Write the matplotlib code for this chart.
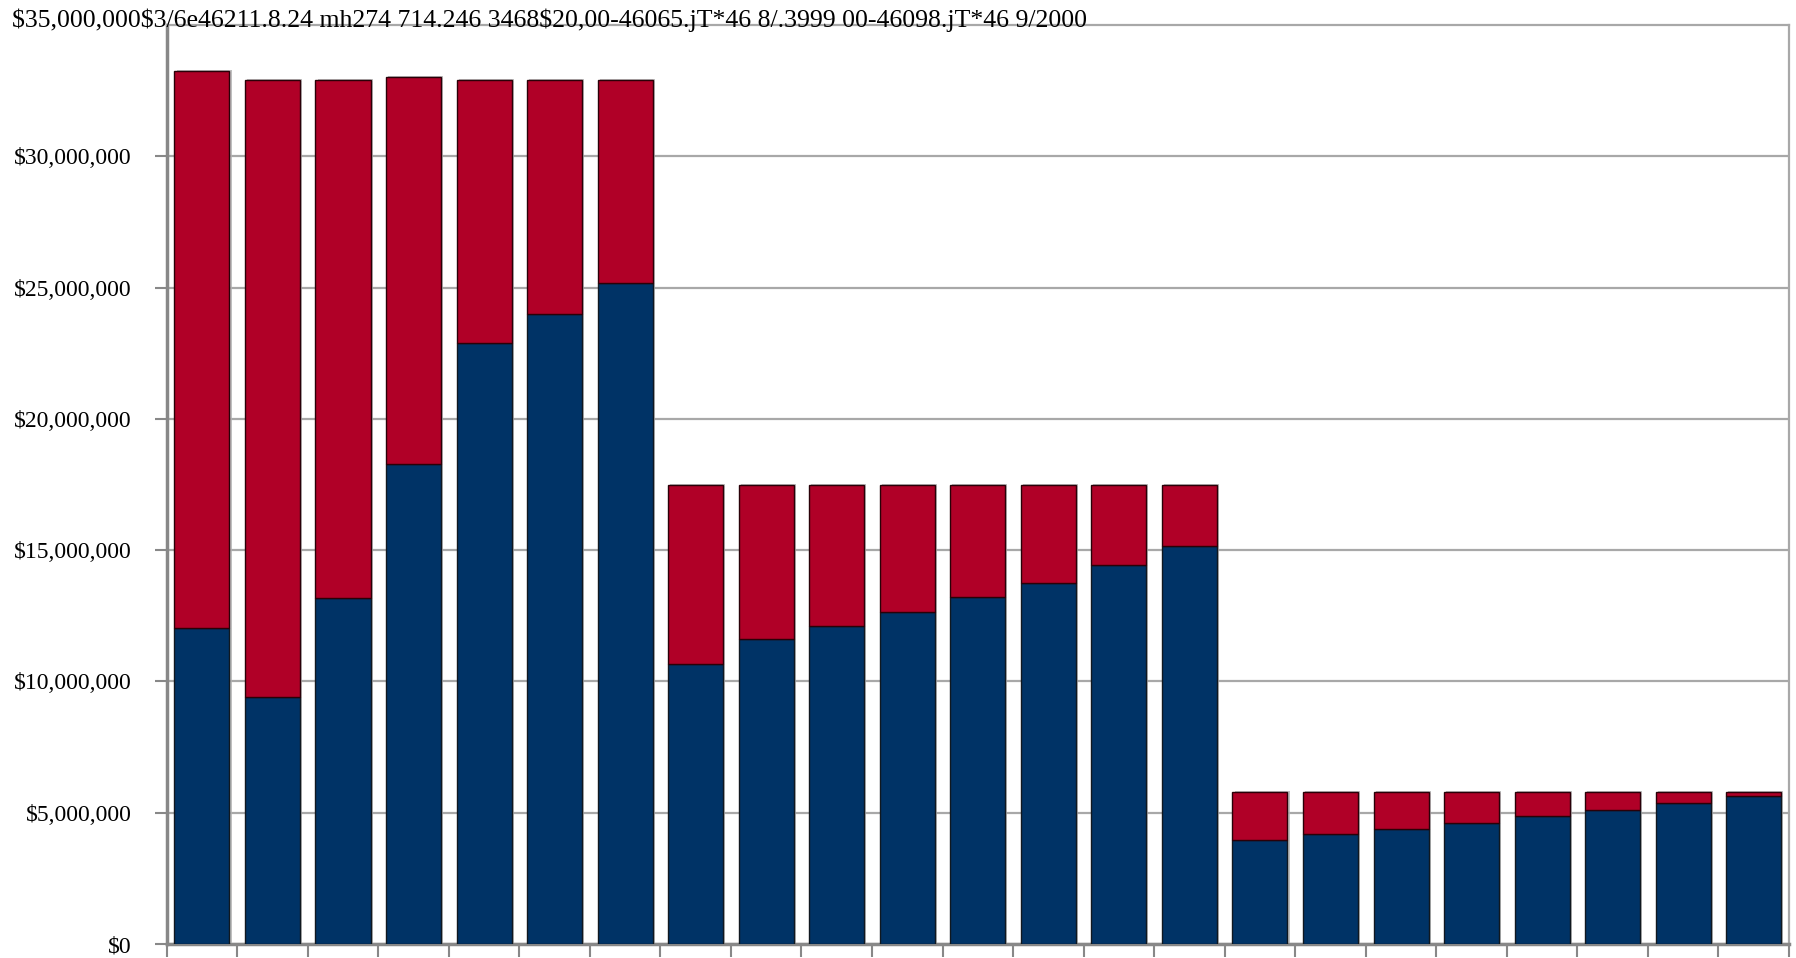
import numpy as np
import matplotlib
matplotlib.use("Agg")
import matplotlib.pyplot as plt
import matplotlib.patheffects as pe
from matplotlib.ticker import FuncFormatter

plt.rcParams["font.family"] = ["Liberation Serif", "DejaVu Serif"]

# values in millions of dollars
base_values = [12.02, 9.41, 13.19, 18.29, 22.89, 23.98, 25.18,
               10.65, 11.61, 12.13, 12.66, 13.22, 13.75, 14.42, 15.16,
               3.97, 4.18, 4.38, 4.62, 4.86, 5.10, 5.37, 5.64]
total_values = [33.26, 32.90, 32.90, 33.02, 32.90, 32.92, 32.90,
                17.48, 17.48, 17.48, 17.48, 17.48, 17.48, 17.48, 17.48,
                5.79, 5.79, 5.79, 5.79, 5.79, 5.79, 5.79, 5.79]
y_ticks = [0, 5, 10, 15, 20, 25, 30]
header_text = ("$35,000,000$3/6e46211.8.24 mh274 714.246 3468$20,00-46065.jT*46 "
               "8/.3999 00-46098.jT*46 9/2000")

base = np.array(base_values) * 1e6
total = np.array(total_values) * 1e6
top = total - base
x = np.arange(len(base))

BLUE = "#003366"
RED = "#B00027"

fig = plt.figure(figsize=(17.96, 9.58), dpi=100)
ax = fig.add_axes([0.0928, 0.0146, 0.9033, 0.9593])

shadow = [pe.SimplePatchShadow(offset=(1.5, 0.8), shadow_rgbFace="#b0b0b0", alpha=0.8), pe.Normal()]

b1 = ax.bar(x, base, width=0.78, color=BLUE, edgecolor="#101820", linewidth=1.0, zorder=3)
b2 = ax.bar(x, top, bottom=base, width=0.78, color=RED, edgecolor="#2a0008", linewidth=1.0, zorder=3)
for p in list(b1) + list(b2):
    p.set_path_effects(shadow)

ax.set_xlim(-0.5, len(x) - 0.5)
ax.set_ylim(0, 35e6)

ax.set_yticks(np.array(y_ticks) * 1e6)
ax.yaxis.set_major_formatter(FuncFormatter(lambda v, p: f"${v:,.0f}"))
ax.set_xticks(np.arange(len(x) + 1) - 0.5)
ax.set_xticklabels([])

ax.tick_params(axis="y", length=9, width=1.5, color="#888888", labelsize=17, pad=16)
ax.tick_params(axis="x", length=9, width=1.5, color="#888888", direction="out")

ax.grid(axis="y", color="#a8a8a8", linewidth=1.6, zorder=0)
ax.set_axisbelow(True)

for side in ["left", "bottom"]:
    ax.spines[side].set_color("#888888")
    ax.spines[side].set_linewidth(2.5)
for side in ["top", "right"]:
    ax.spines[side].set_color("#a8a8a8")
    ax.spines[side].set_linewidth(1.6)

fig.text(12 / 1796, 1 - 20 / 958, header_text, fontsize=18.5, ha="left", va="center")

fig.savefig("out.png", dpi=100)
